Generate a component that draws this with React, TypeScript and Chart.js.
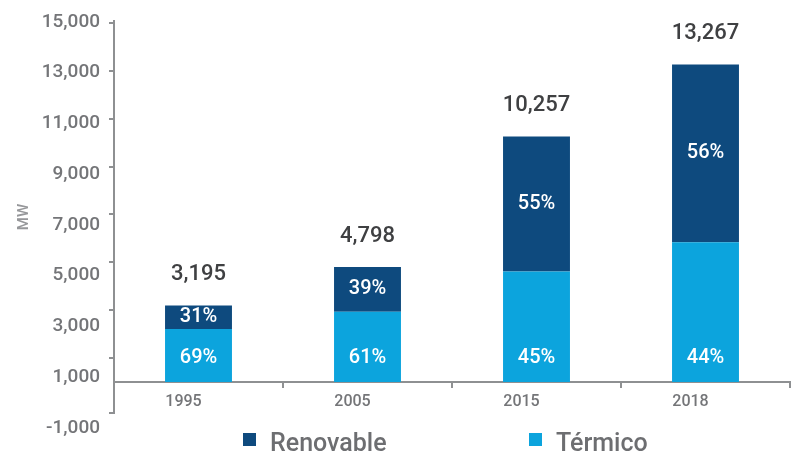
import React, { useEffect, useRef } from "react";
import { Chart, registerables } from "chart.js";

Chart.register(...registerables);

const CATEGORIES = ["1995", "2005", "2015", "2018"];
const TERMICO = [2205, 2927, 4616, 5837];
const RENOVABLE = [990, 1871, 5641, 7430];
const TOTAL_LABELS = ["3,195", "4,798", "10,257", "13,267"];
const PCT_TERMICO = ["69%", "61%", "45%", "44%"];
const PCT_RENOVABLE = ["31%", "39%", "55%", "56%"];
const Y_MARK_VALUES = [1000, 3000, 5000, 7000, 9000, 11000, 13000, 15000];
const Y_LABEL_VALUES = [-1000, 1000, 3000, 5000, 7000, 9000, 11000, 13000, 15000];
const Y_LABELS = ["-1,000", "1,000", "3,000", "5,000", "7,000", "9,000", "11,000", "13,000", "15,000"];
const SERIES_NAMES = ["Térmico", "Renovable"];
const LEGEND_ORDER = [1, 0];

const DARK = "#0e4a7e";
const LIGHT = "#0ca4dd";
const AXIS = "#8e9092";
const LABEL = "#747578";
const FONT = "Roboto";

const labelPlugin = {
  id: "barLabels",
  afterDatasetsDraw(chart: any) {
    const ctx = chart.ctx;
    const metaR = chart.getDatasetMeta(1);
    const zeroY = chart.scales.y.getPixelForValue(0);
    ctx.save();
    ctx.textAlign = "center";
    ctx.textBaseline = "middle";
    metaR.data.forEach((bar: any, i: number) => {
      const { x, y, base } = bar.getProps(["x", "y", "base"], true);
      ctx.fillStyle = "#ffffff";
      ctx.font = `500 20px ${FONT}`;
      ctx.fillText(PCT_RENOVABLE[i], x, (y + base) / 2);
      ctx.fillText(PCT_TERMICO[i], x, zeroY - 24);
      ctx.fillStyle = "#3f4042";
      ctx.font = `500 22px ${FONT}`;
      ctx.fillText(TOTAL_LABELS[i], x, y - 31);
    });
    ctx.restore();
  },
  afterDraw(chart: any) {
    const ctx = chart.ctx;
    const colors = [LIGHT, DARK];
    const boxX = [243, 529];
    ctx.save();
    ctx.textAlign = "left";
    ctx.textBaseline = "alphabetic";
    ctx.font = `500 25px ${FONT}`;
    LEGEND_ORDER.forEach((ds, k) => {
      ctx.fillStyle = colors[ds];
      ctx.fillRect(boxX[k], 433, 13, 13);
      ctx.fillStyle = "#6d6e71";
      ctx.fillText(SERIES_NAMES[ds], boxX[k] + 27, 451);
    });
    ctx.restore();
  },
};

export default function App() {
  const ref = useRef<HTMLCanvasElement>(null);
  useEffect(() => {
    if (!ref.current) return;
    const chart = new Chart(ref.current, {
      type: "bar",
      data: {
        labels: CATEGORIES,
        datasets: [
          { label: SERIES_NAMES[0], data: TERMICO, backgroundColor: LIGHT, yAxisID: "y" },
          { label: SERIES_NAMES[1], data: RENOVABLE, backgroundColor: DARK, yAxisID: "y" },
        ],
      },
      options: {
        responsive: false,
        animation: false,
        layout: { padding: { top: 21, bottom: 40, left: 0, right: 8 } },
        datasets: { bar: { categoryPercentage: 1, barPercentage: 0.396 } },
        plugins: { legend: { display: false }, tooltip: { enabled: false } },
        scales: {
          x: {
            type: "category",
            stacked: true,
            position: { y: 0 } as any,
            offset: true,
            grid: { display: true, drawOnChartArea: false, drawTicks: true, tickLength: 5, offset: true, color: AXIS, lineWidth: 2 },
            border: { display: true, color: AXIS, width: 2 },
            ticks: { color: LABEL, font: { family: FONT, size: 16, weight: "500" }, padding: 6, labelOffset: -15 },
          },
          y: {
            type: "linear",
            stacked: true,
            position: "left",
            weight: 0,
            min: -1300,
            max: 15080,
            afterBuildTicks: (axis: any) => {
              axis.ticks = [axis.min, ...Y_MARK_VALUES].map((v) => ({ value: v }));
            },
            ticks: { display: false },
            grid: { display: true, drawOnChartArea: false, drawTicks: true, tickLength: 5, color: AXIS, lineWidth: 2 },
            border: { display: true, color: AXIS, width: 2 },
            afterFit: (axis: any) => {
              axis.width = 5;
            },
          },
          y1: {
            type: "linear",
            position: "left",
            weight: 1,
            min: -410,
            max: 15035,
            afterBuildTicks: (axis: any) => {
              axis.ticks = Y_LABEL_VALUES.map((v) => ({ value: v }));
            },
            ticks: {
              color: LABEL,
              font: { family: FONT, size: 19, weight: "500" },
              padding: 9,
              callback: (_v: any, i: number) => Y_LABELS[i],
            },
            grid: { display: false, drawTicks: false },
            border: { display: false },
            title: {
              display: true,
              text: "MW",
              color: "#96979a",
              font: { family: FONT, size: 15, weight: "500" },
              padding: { top: 15, bottom: 0 },
            },
            afterFit: (axis: any) => {
              axis.width = 109;
            },
          },
        },
      },
      plugins: [labelPlugin],
    });
    return () => chart.destroy();
  }, []);
  return (
    <div style={{ position: "fixed", left: 0, top: 0, width: 798, height: 453, background: "#fff" }}>
      <canvas ref={ref} width={798} height={453} style={{ display: "block" }} />
    </div>
  );
}
